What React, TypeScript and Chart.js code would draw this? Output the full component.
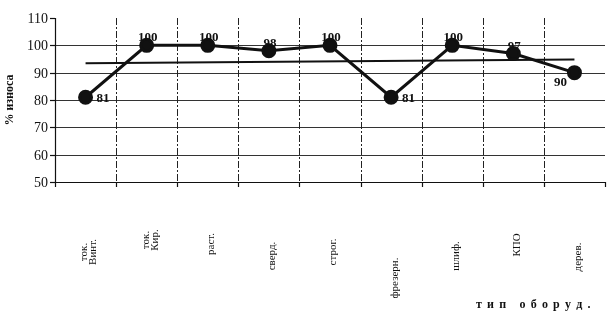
import React, { useEffect, useRef } from "react";
import { Chart, registerables } from "chart.js";

Chart.register(...registerables);

// Equipment types (rotated labels under the axis; "\n" splits lines)
const categories = [
  "ток.\nВинт.",
  "ток.\nКир.",
  "раст.",
  "сверд.",
  "строг.",
  "фрезерн.",
  "шлиф.",
  "КПО",
  "дерев.",
];

// Wear level, %
const wear = [81, 100, 100, 98, 100, 81, 100, 97, 90];

// Linear trend: start and end values
const trendEnds = [93.4, 94.8];

const yTicks = [50, 60, 70, 80, 90, 100, 110];
const gridValues = [50, 60, 70, 80, 90, 100];

const yTitle = "% износа";
const xTitle = "тип оборуд.";

// Vertical centre of each rotated category label
const labelCenterY = [252, 240, 244, 256, 252, 278, 256, 245, 257];
// Where each value label sits relative to its point
const valueLabelPos: ("right" | "above" | "belowLeft")[] = [
  "right", "above", "above", "above", "above", "right", "above", "above", "belowLeft",
];

const SERIF = '"Liberation Serif", "Times New Roman", serif';
const INK = "#111";

const frame = {
  id: "frame",
  beforeDatasetsDraw(chart: any) {
    const { ctx, chartArea: a, scales } = chart;
    const y = scales.y;
    const x = scales.x;
    ctx.save();
    // horizontal grid
    ctx.strokeStyle = "#333";
    ctx.lineWidth = 1;
    gridValues.forEach((v) => {
      const py = Math.round(y.getPixelForValue(v)) + 0.5;
      ctx.beginPath();
      ctx.moveTo(a.left, py);
      ctx.lineTo(a.right, py);
      ctx.stroke();
    });
    // vertical dashed separators between categories
    const n = categories.length;
    const bounds: number[] = [];
    for (let i = 0; i <= n; i++) {
      const px =
        i === 0
          ? a.left
          : i === n
          ? a.right
          : (x.getPixelForValue(i - 1) + x.getPixelForValue(i)) / 2;
      bounds.push(Math.round(px) + 0.5);
    }
    ctx.strokeStyle = "#222";
    ctx.setLineDash([7, 2, 2, 2]);
    for (let i = 1; i < n; i++) {
      ctx.beginPath();
      ctx.moveTo(bounds[i], a.top);
      ctx.lineTo(bounds[i], a.bottom);
      ctx.stroke();
    }
    ctx.setLineDash([]);
    // axes
    ctx.strokeStyle = INK;
    ctx.lineWidth = 1.2;
    ctx.beginPath();
    ctx.moveTo(bounds[0], a.top);
    ctx.lineTo(bounds[0], a.bottom + 1);
    ctx.moveTo(a.left, Math.round(a.bottom) + 0.5);
    ctx.lineTo(a.right, Math.round(a.bottom) + 0.5);
    ctx.stroke();
    // y ticks + labels
    ctx.font = `14px ${SERIF}`;
    ctx.fillStyle = INK;
    ctx.textAlign = "right";
    ctx.textBaseline = "middle";
    yTicks.forEach((v) => {
      const py = Math.round(y.getPixelForValue(v)) + 0.5;
      ctx.beginPath();
      ctx.moveTo(a.left - 5, py);
      ctx.lineTo(a.left, py);
      ctx.stroke();
      ctx.fillText(String(v), a.left - 7, py + 1);
    });
    // x ticks
    bounds.forEach((bx) => {
      ctx.beginPath();
      ctx.moveTo(bx, a.bottom);
      ctx.lineTo(bx, a.bottom + 5);
      ctx.stroke();
    });
    ctx.restore();
  },
  afterDraw(chart: any) {
    const { ctx, scales } = chart;
    const x = scales.x;
    const y = scales.y;
    ctx.save();
    ctx.fillStyle = INK;
    // rotated category labels
    ctx.font = `11px ${SERIF}`;
    ctx.textAlign = "center";
    ctx.textBaseline = "middle";
    categories.forEach((c, i) => {
      const lines = c.split("\n");
      const cx = x.getPixelForValue(i) + 3.5;
      const cy = labelCenterY[i];
      const lh = 9;
      ctx.save();
      ctx.translate(cx, cy);
      ctx.rotate(-Math.PI / 2);
      lines.forEach((ln, k) => {
        const off = (k - (lines.length - 1) / 2) * lh;
        ctx.fillText(ln, 0, off);
      });
      ctx.restore();
    });
    // value labels
    ctx.font = `bold 13px ${SERIF}`;
    wear.forEach((v, i) => {
      const px = x.getPixelForValue(i);
      const py = y.getPixelForValue(v);
      const pos = valueLabelPos[i];
      if (pos === "right") {
        ctx.textAlign = "left";
        ctx.textBaseline = "middle";
        ctx.fillText(String(v), px + 11, py + 1);
      } else if (pos === "above") {
        ctx.textAlign = "center";
        ctx.textBaseline = "alphabetic";
        ctx.fillText(String(v), px + 1, py - 4);
      } else {
        ctx.textAlign = "center";
        ctx.textBaseline = "top";
        ctx.fillText(String(v), px - 14, py + 3);
      }
    });
    // y title
    ctx.font = `bold 12px ${SERIF}`;
    ctx.save();
    ctx.translate(10, 100);
    ctx.rotate(-Math.PI / 2);
    ctx.textAlign = "center";
    ctx.textBaseline = "middle";
    ctx.fillText(yTitle, 0, 0);
    ctx.restore();
    // x title, letter-spaced
    ctx.font = `bold 12px ${SERIF}`;
    ctx.textAlign = "left";
    ctx.textBaseline = "middle";
    let tx = 476;
    for (const ch of xTitle) {
      ctx.fillText(ch, tx, 305);
      tx += ctx.measureText(ch).width + 5.2;
    }
    ctx.restore();
  },
};

export default function App() {
  const ref = useRef<HTMLCanvasElement | null>(null);

  useEffect(() => {
    if (!ref.current) return;
    const trendData = categories.map((_, i) =>
      i === 0 ? trendEnds[0] : i === categories.length - 1 ? trendEnds[1] : null
    );
    const chart = new Chart(ref.current, {
      type: "line",
      data: {
        labels: categories,
        datasets: [
          {
            data: wear,
            borderColor: INK,
            backgroundColor: INK,
            borderWidth: 3,
            pointRadius: 6,
            pointBackgroundColor: INK,
            pointBorderColor: INK,
            tension: 0,
            order: 0,
          },
          {
            data: trendData,
            borderColor: INK,
            borderWidth: 2,
            pointRadius: 0,
            spanGaps: true,
            tension: 0,
            order: 1,
          },
        ],
      },
      options: {
        responsive: false,
        animation: false,
        events: [],
        layout: { padding: { left: 55, right: 6, top: 18, bottom: 136 } },
        plugins: { legend: { display: false }, tooltip: { enabled: false } },
        scales: {
          x: { type: "category", offset: true, display: false },
          y: { min: 50, max: 110, display: false },
        },
      },
      plugins: [frame],
    });
    return () => chart.destroy();
  }, []);

  return (
    <div style={{ position: "fixed", left: 0, top: 0, width: 614, height: 318, background: "#fff" }}>
      <canvas ref={ref} width={614} height={318} />
    </div>
  );
}
